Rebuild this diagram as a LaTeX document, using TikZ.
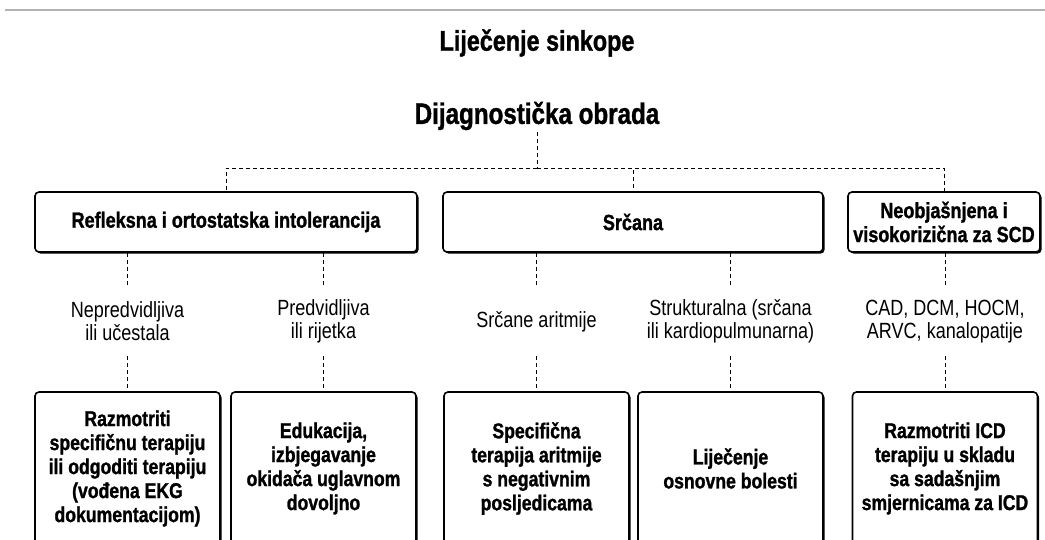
\documentclass[tikz,border=0pt]{standalone}
\usepackage{fontspec}
\setmainfont{Liberation Sans}[FakeStretch=0.82, BoldFeatures={FakeBold=1.2}]
\usepackage{tikz}
\usetikzlibrary{shapes,arrows,shadows,positioning}

\begin{document}
\begin{tikzpicture}[x=1pt,y=-1pt]
			\tikzstyle{Box}		= [draw, line width=1.6pt, rounded corners=4pt, fill=white, align=center, inner sep=0pt,
								   drop shadow={shadow xshift=1.6pt, shadow yshift=-1.6pt, opacity=1, fill=black}]
			\tikzstyle{Head}	= [Box, minimum height=60pt, font=\bfseries\fontsize{22}{24}\selectfont]
			\tikzstyle{Cure}	= [Box, minimum width=185pt, minimum height=153pt, font=\bfseries\fontsize{21.5}{24}\selectfont]
			\tikzstyle{Kind}	= [align=center, inner sep=0pt, minimum height=69pt, font=\fontsize{22}{23}\selectfont]
			\tikzstyle{Link}	= [line width=0.9pt, dash pattern=on 4pt off 3pt]
			
			\clip (0,0) rectangle (1045,540);
			\draw [-] (5,10) to (1045,10) [line width=2pt, black!30];
			
			\node (title) at (537,43) [font=\bfseries\fontsize{28.5}{30}\selectfont] {Liječenje sinkope};
			\node (diag) at (537,116) [font=\bfseries\fontsize{29.5}{30}\selectfont, inner sep=2pt] {Dijagnostička obrada};
			\coordinate (bus) at (537,168);
			
			\node (refl) at (226,222) [Head][minimum width=382pt] {Refleksna i ortostatska intolerancija};
			\node (srcana) at (633,222) [Head][minimum width=380pt] {Srčana};
			\node (neo) at (944,222) [Head][minimum width=192pt] {Neobjašnjena i\\visokorizična za SCD};
			
			\node (kA) at (127.5,321.5) [Kind] {Nepredvidljiva\\ili učestala};
			\node (kB) at (323.5,321.5) [Kind] {Predvidljiva\\ili rijetka};
			\node (kC) at (536.5,321.5) [Kind] {Srčane aritmije};
			\node (kD) at (730.5,321.5) [Kind] {Strukturalna (srčana\\ili kardiopulmunarna)};
			\node (kE) at (945,321.5) [Kind] {CAD, DCM, HOCM,\\ARVC, kanalopatije};
			
			\node (cA) at (127.5,468.5) [Cure] {Razmotriti\\specifičnu terapiju\\ili odgoditi terapiju\\(vođena EKG\\dokumentacijom)};
			\node (cB) at (323.5,468.5) [Cure] {Edukacija,\\izbjegavanje\\okidača uglavnom\\dovoljno};
			\node (cC) at (536.5,468.5) [Cure] {Specifična\\terapija aritmije\\s negativnim\\posljedicama};
			\node (cD) at (730.5,468.5) [Cure] {Liječenje\\osnovne bolesti};
			\node (cE) at (945,468.5) [Cure] {Razmotriti ICD\\terapiju u skladu\\sa sadašnjim\\smjernicama za ICD};
			
			\draw [-] (diag) to (bus) [Link];
			\draw [-] (bus) -| (refl) [Link];
			\draw [-] (bus) -| (srcana) [Link];
			\draw [-] (bus) -| (neo) [Link];
			
			\draw [-] (refl.south -| kA) to (kA) [Link];
			\draw [-] (refl.south -| kB) to (kB) [Link];
			\draw [-] (srcana.south -| kC) to (kC) [Link];
			\draw [-] (srcana.south -| kD) to (kD) [Link];
			\draw [-] (neo.south -| kE) to (kE) [Link];
			
			\draw [-] (kA) to (cA) [Link];
			\draw [-] (kB) to (cB) [Link];
			\draw [-] (kC) to (cC) [Link];
			\draw [-] (kD) to (cD) [Link];
			\draw [-] (kE) to (cE) [Link];
		\end{tikzpicture}
\end{document}
